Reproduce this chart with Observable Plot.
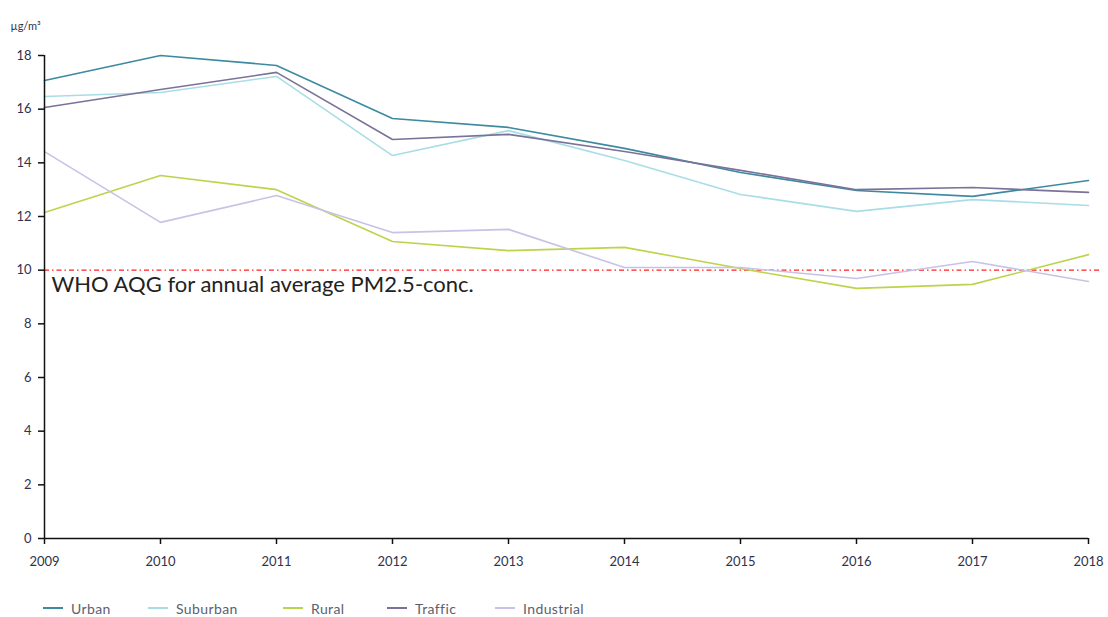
<!DOCTYPE html>
<html>
<head>
<meta charset="utf-8">
<script src="https://cdn.jsdelivr.net/npm/d3@7"></script>
<script src="https://cdn.jsdelivr.net/npm/@observablehq/plot@0.6"></script>
<style>
  body { margin: 0; background: #fff; }
  #legend { display: flex; font-family: Lato, "Open Sans", sans-serif; font-size: 14px; letter-spacing: 0.4px; color: #5a5f70; height: 22px; align-items: center; padding-left: 43px; margin-top: 17px; }
  .item { display: flex; align-items: center; }
  .sw { width: 20px; height: 2px; margin-right: 8px; }
</style>
</head>
<body>
<div id="chart"></div>
<div id="legend"></div>
<script>
const years = [2009, 2010, 2011, 2012, 2013, 2014, 2015, 2016, 2017, 2018];
const seriesNames = ["Urban", "Suburban", "Rural", "Traffic", "Industrial"];
const seriesColors = ["#3d8aa0", "#a9dde6", "#bcd44c", "#7a7299", "#c8c2e6"];
const urban      = [17.07, 18.0, 17.63, 15.65, 15.32, 14.54, 13.64, 12.97, 12.75, 13.34];
const suburban   = [16.47, 16.62, 17.22, 14.27, 15.2, 14.09, 12.82, 12.19, 12.63, 12.41];
const rural      = [12.15, 13.53, 13.0, 11.07, 10.73, 10.85, 10.06, 9.32, 9.47, 10.58];
const traffic    = [16.06, 16.73, 17.37, 14.87, 15.06, 14.42, 13.72, 13.0, 13.08, 12.9];
const industrial = [14.42, 11.78, 12.78, 11.4, 11.52, 10.1, 10.1, 9.69, 10.32, 9.58];
const yTicks = [0, 2, 4, 6, 8, 10, 12, 14, 16, 18];
const whoLimit = 10;
const whoLabel = "WHO AQG for annual average PM2.5-conc.";
const unitLabel = "µg/m³";

const allSeries = [urban, suburban, rural, traffic, industrial];
const data = [];
seriesNames.forEach((name, i) => {
  years.forEach((yr, j) => data.push({series: name, year: yr, value: allSeries[i][j]}));
});

const chart = Plot.plot({
  width: 1108,
  height: 580,
  marginLeft: 44,
  marginRight: 20,
  marginTop: 55,
  marginBottom: 42,
  style: {fontFamily: "Lato, 'Open Sans', sans-serif", fontSize: "13px", color: "#2e3350", background: "#fff"},
  x: {domain: [2009, 2018], label: null},
  y: {domain: [0, 18], label: null},
  color: {domain: seriesNames, range: seriesColors},
  marks: [
    Plot.ruleY([whoLimit], {x1: 2009, x2: 2018.11, stroke: "#ff2020", strokeWidth: 1.2, strokeDasharray: "5,3,1.5,3"}),
    Plot.lineY(data, {x: "year", y: "value", stroke: "series", strokeWidth: 1.6}),
    Plot.ruleX([2009], {y1: 0, y2: 18, stroke: "#111", strokeWidth: 1.5}),
    Plot.ruleY([0], {x1: 2009, x2: 2018, stroke: "#111", strokeWidth: 1.5}),
    Plot.axisX({ticks: years, tickFormat: d => String(d), tickSize: 6, tickPadding: 12, stroke: "#111", strokeWidth: 1.5, label: null}),
    Plot.axisY({ticks: yTicks, tickSize: 6, tickPadding: 7, stroke: "#111", strokeWidth: 1.5, label: null}),
    Plot.text([whoLabel], {x: 2009, y: whoLimit, dx: 7, dy: 15, textAnchor: "start", fontSize: 22, fill: "#222", fontFamily: "Lato, 'Open Sans', sans-serif"}),
    Plot.text([unitLabel], {frameAnchor: "top-left", dx: -34, dy: -33, textAnchor: "start", fontSize: 11, fill: "#2e3350"})
  ]
});
document.getElementById("chart").appendChild(chart);

const legend = document.getElementById("legend");
const widths = [105, 135, 104, 108, 0];
seriesNames.forEach((name, i) => {
  const it = document.createElement("div");
  it.className = "item";
  it.style.width = widths[i] ? widths[i] + "px" : "auto";
  const sw = document.createElement("div");
  sw.className = "sw";
  sw.style.background = seriesColors[i];
  const lb = document.createElement("span");
  lb.textContent = name;
  it.appendChild(sw); it.appendChild(lb);
  legend.appendChild(it);
});
</script>
</body>
</html>
